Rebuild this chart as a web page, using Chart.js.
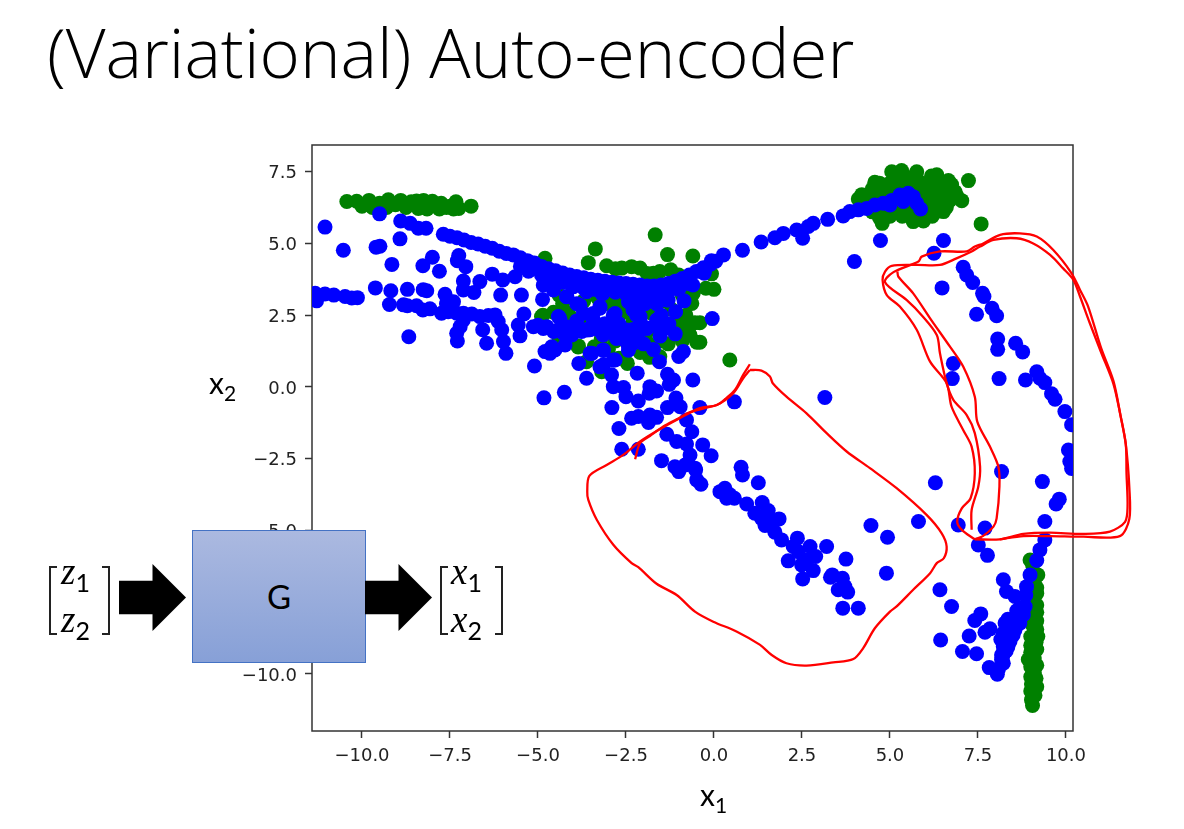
<!DOCTYPE html>
<html>
<head>
<meta charset="utf-8">
<script src="https://cdn.jsdelivr.net/npm/chart.js@4"></script>
<style>
  html, body { margin: 0; padding: 0; background: #fff; overflow: hidden; }
  #wrap { position: relative; width: 1184px; height: 829px; font-family: Lato, sans-serif; color: #000; }
  #myChart { position: absolute; left: 0; top: 0; }
  .txt { position: absolute; white-space: nowrap; line-height: 1; }
  #title { left: 47px; top: 17px; font-family: "Open Sans", sans-serif; font-size: 68.9px; font-weight: 300; }
  .axisName { font-size: 30px; }
  .axisName sub { font-size: 21px; vertical-align: -7px; line-height: 0; }
  #box { position: absolute; left: 192px; top: 530px; width: 172px; height: 131px; border: 1px solid #4472c4;
    background: linear-gradient(#abb9e0, #87a0d7); text-align: center; line-height: 131px; font-size: 33px; }
  .arrow { position: absolute; top: 564px; width: 67px; height: 67px; background: #000;
    clip-path: polygon(0 25%, 50% 25%, 50% 0, 100% 50%, 50% 100%, 50% 75%, 0 75%); }
  .brk { position: absolute; top: 566px; width: 6px; height: 65px; border: 2px solid #222; }
  .brk.l { border-right: none; }
  .brk.r { border-left: none; }
  .mat { font-family: "Liberation Serif", serif; font-style: italic; font-size: 37px; }
  .mat sub { font-family: Lato, sans-serif; font-style: normal; font-size: 25px; vertical-align: -8px; line-height: 0; }
</style>
</head>
<body>
<div id="wrap">
  <canvas id="myChart" width="1184" height="829"></canvas>
  <div class="txt" id="title">(Variational) Auto-encoder</div>
  <div class="txt axisName" style="left:209px; top:367px">x<sub>2</sub></div>
  <div class="txt axisName" style="left:700px; top:779px">x<sub>1</sub></div>

  <div class="brk l" style="left:49px"></div>
  <div class="brk r" style="left:102px"></div>
  <div class="txt mat" style="left:61px; top:553px">z<sub>1</sub></div>
  <div class="txt mat" style="left:61px; top:601px">z<sub>2</sub></div>
  <div class="arrow" style="left:119px"></div>
  <div id="box">G</div>
  <div class="arrow" style="left:365px"></div>
  <div class="brk l" style="left:440px"></div>
  <div class="brk r" style="left:495px"></div>
  <div class="txt mat" style="left:451px; top:553px">x<sub>1</sub></div>
  <div class="txt mat" style="left:451px; top:601px">x<sub>2</sub></div>
</div>

<script>
const xTicks = [-10, -7.5, -5, -2.5, 0, 2.5, 5, 7.5, 10]
const yTicks = [-10, -7.5, -5, -2.5, 0, 2.5, 5, 7.5]

// green points
const greenTopLeft = [[-10.43,6.46],[-10.15,6.47],[-10,6.3],[-9.8,6.5],[-9.7,6.25],[-9.5,6.4],[-9.3,6.25],[-9.25,6.52],[-9.05,6.35],[-8.9,6.5],[-8.75,6.25],[-8.6,6.45],[-8.4,6.22],[-8.45,6.48],[-8.25,6.5],[-8.15,6.2],[-8,6.47],[-7.9,6.3],[-7.8,6.2],[-7.75,6.4],[-7.6,6.25],[-7.5,6.3],[-7.4,6.2],[-7.33,6.45],[-7.25,6.22],[-6.9,6.3]]
const greenTopRight = [[5.05,7.5],[5.33,7.54],[5.76,7.5],
  [4.57,7.13],[5.2,7.3],[5.5,7.3],[5.75,7.3],[6.18,7.35],[6.33,7.39],[6.66,7.19],
  [4.7,7.1],[5,7.1],[5.3,7.1],[5.6,7.1],[5.9,7.1],[6.2,7.1],[6.5,7.1],[6.75,7.05],
  [4.5,6.9],[4.8,6.9],[5.1,6.9],[5.4,6.9],[5.7,6.9],[6,6.9],[6.3,6.9],[6.6,6.9],[6.85,6.8],
  [4.2,6.7],[4.5,6.7],[4.8,6.7],[5.4,6.7],[5.7,6.7],[6,6.7],[6.3,6.7],[6.6,6.7],[6.9,6.65],
  [4.1,6.55],[4.5,6.5],[4.9,6.5],[5.8,6.5],[6.1,6.5],[6.4,6.5],[6.7,6.5],[7.04,6.49],
  [4.5,6.3],[4.9,6.3],[5.3,6.3],[5.6,6.3],[6,6.3],[6.3,6.3],[6.6,6.25],
  [4.5,6.1],[4.8,6.1],[5.1,6.1],[5.4,6.1],[5.7,6.1],[6,6.1],[6.3,6.1],[6.52,6.11],
  [4.7,5.9],[5,5.95],[5.35,5.95],[5.66,5.9],[5.95,5.9],[6.2,5.95],
  [4.78,5.7],[5.66,5.76],[5.95,5.78],[7.23,7.19],[7.59,5.68]]
const greenMiddle = [[-1.67,5.3],[-3.37,4.81],[-1.32,4.61],[-0.6,4.56],[-3.57,4.33],[-4.8,4.48],[-3.05,4.22],[-2.8,4.12],[-2.62,4.14],[-2.34,4.19],[-2.1,4.14],[-1.9,3.95],[-1.72,3.96],[-1.54,4.02],[-1.23,4.08],[-1,3.9],[-0.07,3.94],[-0.23,3.44],[0,3.4],[-0.59,3.26],[-0.63,2.91],[-0.54,2.24],[-0.73,1.99],[-0.49,1.56],[-0.68,1.81],[-0.8,2.5],[-0.4,2.24],[-0.4,1.56],
  [-4.9,2.45],[-4.56,2.6],[-3.85,1.43],[-3.62,0.88],[-3.19,0.53],[-2.46,0.82],[-1.83,1.03],[-1.91,1.58],[-1.54,1.06],[-3.05,2.91],[-2.62,2.57],[-4.09,2.45],[-1.77,2.57],[-1.06,2.21],[-3.7,3],[-3.4,2.2],[-2.8,3],[-2.3,2.3],[-2,3],[-1.5,1.6],[-4.3,2.9],[-3,1.3],[-3.4,1.4],[-2.7,1],[0.45,0.94],
  [-4.15,2.57],[-4.86,2.5],[-3.04,3.03],[-2.58,2.7],[-1.87,2.62],[-0.77,2.33],[-0.6,3.27],[-3.86,1.39],[-4.4,1.7],[-4.4,3.2],[-3.6,2.4],[-3.2,1.7],[-2.8,1.6],[-2.4,2],[-2.1,1.2],[-1.7,2],[-1.3,1.5],[-1.2,2.7],[-0.9,1.6],[-1.4,3],[-0.9,3.2],[-3.3,3.1],[-2.3,2.9]]
const greenColumn = [[8.98,-6.03],[9.05,-6.2],[9.2,-6.55],[9.1,-6.8],[9.17,-7],[9.17,-7.2],[9.05,-7.4],[9.17,-7.6],[9.05,-7.7],[9.17,-7.85],[9.05,-8],[9.17,-8.15],[9.05,-8.3],[9.17,-8.45],[9.2,-8.7],[9,-8.7],[9.15,-8.9],[9,-9],[9.17,-9.15],[9,-9.25],[8.93,-9.5],[9.1,-9.45],[9.17,-9.7],[9,-9.75],[9.1,-9.95],[9,-10.1],[9.15,-10.15],[9.02,-10.35],[9.17,-10.45],[9,-10.6],[9.12,-10.75],[9.02,-10.9],[9.05,-11.1]]

// blue points
const blueLeft = [[-11.33,3.26],[-11.29,3],[-11.05,3.24],[-10.8,3.2],[-10.48,3.15],[-10.29,3.1],[-10.13,3.11],[-11.05,5.57],[-10.53,4.76],[-9.6,4.87],[-9.49,4.9],[-9.5,6.03],[-8.92,5.16],[-9.15,4.27],[-9.62,3.45],[-9.18,3.35],[-8.71,3.4],[-8.26,3.39],[-8.16,3.35],[-9.22,2.87],[-8.82,2.86],[-8.71,2.83],[-8.45,2.83],[-8.27,2.68],[-8.07,2.72],[-7.74,2.57],[-7.64,3.23],[-7.4,2.97],[-7.6,2.9],[-7.55,2.62],[-7.31,2.57],[-7.12,2.57],[-6.88,2.54],[-6.65,2.45],[-6.41,2.49],[-6.22,2.51],[-6.13,2.28],[-6.03,1.99],[-5.98,1.58],[-5.91,1.17],[-6.46,1.52],[-6.57,1.99],[-7.12,2.33],[-7.21,2.1],[-7.31,1.87],[-7.29,1.6],[-8.67,1.75],[-8.9,5.78],[-8.63,5.7],[-8.4,5.53],[-8.18,5.53],[-8,4.52],[-8.27,4.22],[-7.8,4.03],[-7.25,4.58],[-7.29,4.4],[-7.05,4.19],[-7.12,3.69],[-7.12,3.38],[-6.82,3.29],[-6.65,3.67],[-6.3,3.93],[-6,3.73],[-5.65,3.84],[-6.06,3.2],[-5.47,3.2],[-4.87,3.05],[-5.4,2.54],[-5.56,2.16],[-5.51,1.78]]
const blueBand = [[-7.69,5.32],[-7.5,5.25],[-7.3,5.2],[-7.1,5.12],[-6.9,5.03],[-6.7,4.98],[-6.5,4.9],[-6.3,4.83],[-6.1,4.73],[-5.9,4.65],[-5.7,4.6],[-5.5,4.5],[-5.3,4.4],[-5.1,4.32],[-4.9,4.2],[-4.7,4.12],[-4.5,4.05],[-4.3,3.97],[-4.1,3.9],[-3.9,3.85],[-3.7,3.8],[-3.5,3.75],[-3.3,3.72],[-3.1,3.68],[-2.9,3.65],[-2.7,3.62],[-2.5,3.6],[-2.3,3.58],[-2.1,3.55],[-1.9,3.52],[-1.7,3.52],[-1.5,3.55],[-1.3,3.6],[-1.1,3.68],[-0.9,3.78],[-0.7,3.9],[-0.5,4.02],[-0.3,4.15],[-0.1,4.28],[0.05,4.38],
  [-5.5,4.2],[-5.2,4.1],[-4.9,3.9],[-4.6,3.75],[-4.3,3.65],[-4,3.5],[-3.7,3.45],[-3.4,3.4],[-3.1,3.35],[-2.8,3.3],[-2.5,3.25],[-2.2,3.25],[-1.9,3.25],[-1.6,3.25],[-1.3,3.3],[-1,3.4],[-0.7,3.6]]
const blueMiddle = [[-5,2.15],[-4.75,2.1],[-4.56,1.93],[-4.28,1.87],[-4.04,1.81],[-3.76,1.93],[-3.52,1.99],[-3.29,1.99],[-3,1.93],[-2.76,1.75],[-2.53,1.64],[-2.29,1.52],[-2.43,1.28],[-2,1.5],[-1.9,2.05],[-1.6,2.1],[-1.3,2.05],[-1.45,2.2],[-1.1,1.85],[-1.5,2.5],
  [-4.42,2.45],[-4.18,3.15],[-3.9,2.9],[-3.71,2.57],[-3.95,3.6],[-3.62,3.5],[-3.19,3.26],[-3.24,2.74],[-3.43,2.33],[-2.86,2.5],[-2.43,2.97],[-2.1,2.45],[-1.96,2.9],[-1.63,2.9],[-1.3,3.03],[-1.09,2.62],[-0.85,3],[-0.6,3.55],[-1.63,2.33],[-1.28,2.2],[-0.05,2.38],[-0.28,3.96],[-4.85,3.55],[-4.56,3.38],[-4.7,3.85],[-5.27,4.03],[-4.94,4.08],[-4.28,3.79],[-3.6,2],[-3.1,2.2],[-2.7,2.2],[-2.3,2],[-3.9,2.3],[-4.2,2.1],
  [-4.38,2.39],[-3.81,2.85],[-4.19,3.14],[-3.24,2.8],[-2.81,2.56],[-2.1,2.97],[-1.35,3.03],[-2.1,2.33],[-2.15,1.87],[-2.48,1.98],[-2.77,2.04],[-3.24,2.16],[-3.62,1.98],[-4,1.98],[-4.42,1.98],[-4.85,2.04],[-5.13,2.1],[-3.43,2.56],[-3.15,3.26],[-4,3.49],[-3.62,3.32],[-1.53,1.77],[-1.91,2.04],[-2.43,1.4],[-2.77,1.69],[-3.15,1.81],[-3.52,1.17],[-3.15,1.29],[-2.81,0.94],[-3.24,0.7],[-2.2,2.5],[-2.3,2.68]]
const blueLower = [[-1.72,1.3],[-1.55,0.88],[-1,1.06],[-0.87,1.23],[-1.32,0.44],[-1.15,0.24],[-1.27,0.09],[-0.6,0.24],[-2.18,0.48],[-1.82,0.01],[-1.63,-0.14],[-1.84,-0.22],[-2.15,-0.49],[-2.5,-0.34],[-2.57,-0.02],[-2.86,0.01],[-2.91,0.42],[-3.14,0.77],[-2.86,0.94],[-3.14,1.27],[-3.47,1.17],[-3.84,0.82],[-3.62,0.3],[-4.25,-0.19],[-4.83,-0.38],[-5.1,0.73],[-4.8,1.23],[-4.66,1.17],[-4.52,1.29],[-4.23,1.46],[-4.61,1.4],[-1.08,-0.39],[-0.96,-0.69],[-1.32,-0.72],[-0.4,-0.72],[-2.9,-0.72],[-2.34,-1.09],[-2.15,-1.03],[-1.82,-0.98],[-1.63,-1.06],[-1.86,-1.24],[-0.78,-1.15],[-2.7,-1.45],[-0.63,-1.56],[-1.34,-1.65],[-1.06,-1.9],[-0.78,-1.99],[-0.32,-2.02],[-0.68,-2.37],[-0.08,-2.4],[-2.62,-2.17],[-2.15,-2.17],[-1.49,-2.57],[-1.11,-2.78],[-0.82,-2.72],[-0.54,-2.83],[-1,-2.95],[-0.52,-2.89],[-0.49,-3.24],[-0.37,-3.39]]
const blueDiagonal = [[0.77,-2.8],[0.81,-3.07],[1.26,-3.34],[0.17,-3.65],[0.31,-3.53],[0.36,-3.88],[0.58,-3.88],[0.45,-3.76],[0.93,-4.08],[1.37,-4.03],[1.54,-4.31],[1.85,-4.6],[1.16,-4.4],[1.35,-4.58],[1.45,-4.83],[1.64,-4.75],[1.73,-5.06],[1.92,-5.33],[2.37,-5.27],[2.25,-5.56],[2.4,-5.74],[2.73,-5.56],[2.89,-5.91],[3.2,-5.56],[2.11,-6.06],[2.49,-6.2],[2.63,-6.03],[2.82,-6.4],[2.52,-6.69],[3.75,-6],[3.31,-6.63],[3.36,-6.55],[3.65,-6.67],[3.72,-6.96],[3.53,-7.07],[3.8,-7.15],[3.66,-7.71],[4.1,-7.71],[4.46,-4.83],[4.93,-5.24],[4.9,-6.49],[5.81,-4.69],[6.29,-3.34],[3.15,-0.37],[0.58,-0.52]]
const blueUpperRight = [[-0.26,4.07],[-0.07,4.4],[0.27,4.6],[0.81,4.76],[1.34,5.05],[1.73,5.2],[1.97,5.35],[2.35,5.47],[2.52,5.18],[2.68,5.59],[2.82,5.7],[3.23,5.84],[3.67,5.96],[3.86,6.11],[4.1,6.17],[4.34,6.22],[4.57,6.34],[4.81,6.4],[5.05,6.5],[5.28,6.69],[5.52,6.75],[5.66,6.63],[5.76,6.4],[5.87,6.2],[5,6.34],[5.38,6.46],[3.99,4.37],[4.73,5.1],[6.52,5.1],[6.25,4.66],[6.48,3.45]]
const blueRightArc = [[7.08,4.17],[7.18,3.9],[7.35,3.64],[7.63,3.26],[7.67,3.15],[7.9,2.74],[8.03,2.48],[7.46,2.53],[8.06,1.67],[8.06,1.31],[8.57,1.52],[8.77,1.22],[6.8,0.82],[6.77,0.29],[8.1,0.29],[8.85,0.24],[9.17,0.53],[9.26,0.3],[9.4,0.15],[9.59,-0.24],[9.69,-0.43],[9.97,-0.86],[10.16,-1.32],[10.07,-2.2],[10.11,-2.6],[10.16,-2.84],[8.17,-2.95],[9.33,-3.3],[6.94,-4.81],[7.7,-4.92],[9.4,-4.69],[9.81,-3.91],[9.72,-4.08]]
const blueBottomRight = [[9.4,-5.33],[9.26,-5.68],[9.17,-6.05],[7.51,-5.51],[7.77,-5.87],[8.98,-6.55],[8.88,-6.96],[8.86,-7.25],[8.22,-6.72],[8.31,-7.13],[8.55,-7.3],[6.42,-7.07],[6.75,-7.65],[7.58,-7.91],[7.41,-8.14],[7.84,-8.43],[7.7,-8.55],[7.25,-8.68],[6.44,-8.82],[7.06,-9.22],[7.46,-9.3],[7.82,-9.78],[8.05,-10.01],[8.84,-7.65],[8.79,-7.94],[8.69,-8.23],[8.55,-8.47],[8.27,-8.23],[8.5,-8.1],[8.6,-7.8],[8.22,-8.58],[8.41,-8.87],[8.22,-9.05],[8.17,-9.34],[8.22,-9.63],[8.4,-8.5],[8.3,-8.8],[8.3,-9.2],[8.15,-8.8],
  [8.7,-7.7],[8.45,-8.3],[8.35,-8.6],[8.25,-8.95],[8.35,-9.05],[8.2,-9.4],[8.35,-8.1],[8.65,-8.05],[8.5,-8.64],[8.17,-9.5],[8.08,-9.85]]

// red pen strokes
const redLoop = [[1.02,0.79],[0.83,0.42],[0.6,-0.1],[0.31,-0.43],[0.08,-0.63],[-0.26,-0.74],[-0.68,-0.88],[-1.06,-1.13],[-1.44,-1.38],[-1.82,-1.71],[-2.1,-1.96],[-2.24,-2.52]]
const redLoopClosed = [[1.02,0.59],[1.35,0.57],[1.59,0.36],[1.67,0.13],[2.06,-0.34],[2.63,-0.92],[3.2,-1.61],[3.77,-2.25],[4.43,-2.83],[5.19,-3.53],[6.04,-4.46],[6.47,-5.1],[6.61,-5.56],[6.53,-5.97],[6.33,-6.14],[6.14,-6.49],[5.66,-7.07],[5.19,-7.65],[5,-7.83],[4.57,-8.41],[4.24,-9.1],[3.96,-9.48],[3.39,-9.6],[2.63,-9.71],[2.06,-9.63],[1.64,-9.34],[1.31,-8.99],[0.64,-8.52],[-0.02,-8.18],[-0.54,-7.83],[-1.06,-7.25],[-1.63,-6.86],[-2.15,-6.28],[-2.34,-6.14],[-2.86,-5.5],[-3.33,-4.63],[-3.57,-3.94],[-3.6,-3.65],[-3.54,-3.1],[-3.05,-2.72],[-2.58,-2.37],[-2.1,-1.9],[-1.49,-1.44],[-0.97,-1.09],[-0.4,-0.74],[0.08,-0.63],[0.55,-0.22],[0.83,0.3],[1.02,0.59]]
const redRightA = [[7.32,-4.98],[7.32,-4.29],[7.51,-3.47],[7.56,-2.78],[7.41,-1.61],[7.18,-0.98],[6.8,-0.45],[6.61,0.13],[6.42,1.17],[6.33,1.81],[5.9,2.5],[5.47,3.03],[4.86,3.65],[5.1,4],[5.81,4.37],[5.9,4.54],[6.42,4.72],[7.18,4.72],[7.41,4.89],[7.65,5],[8.13,5.3],[8.69,5.35],[9.17,5.24],[9.64,4.77],[10.16,3.96],[10.4,3.38],[10.63,2.8],[11,1.35],[11.35,0.2],[11.55,-1],[11.7,-2],[11.72,-3],[11.75,-4.17],[11.68,-4.7],[11.25,-5.04],[10.5,-5.12],[9.55,-5.08],[8.79,-5.12],[8.12,-5.31],[7.41,-5.31]]
const redRightB = [[7.41,-5.31],[7.04,-4.98],[6.91,-4.69],[7.04,-4.23],[7.29,-3.88],[7.41,-3.01],[7.32,-2.08],[7.08,-1.5],[6.75,-0.69],[6.61,0.13],[6.14,0.88],[5.76,1.99],[5.28,2.8],[4.91,3.2],[4.79,3.73],[4.86,4.02],[5.05,4.22],[5.76,4.25],[6.42,4.25],[6.89,4.48],[7.32,4.72],[7.56,4.89],[7.94,5.12],[8.6,5.18],[9.07,5],[9.55,4.6],[9.92,4.13],[10.21,3.73],[10.4,3.15],[10.66,2.28],[11,1.2],[11.35,0.1],[11.55,-1],[11.7,-2],[11.8,-3.5],[11.8,-4.6],[11.53,-5.2],[10.5,-5.22],[9.55,-5.2],[8.79,-5.2],[8.12,-5.31]]
const redRightC = [[7.41,-5.31],[7.65,-5.19],[7.94,-4.87],[8.03,-4.58],[8.11,-3.47],[8.08,-2.78],[7.84,-2.08],[7.48,-1.21],[7.41,-0.34],[7.08,0.71],[6.7,1.41],[6.14,2.39],[5.66,3.26],[5.24,3.84],[5.21,4.02]]

const toXY = a => a.map(p => ({ x: p[0], y: p[1] }))

// order: lower number is drawn on top
function dots(points, color, order) {
  return { data: toXY(points), backgroundColor: color, borderWidth: 0, pointRadius: 7.5, pointHoverRadius: 7.5, clip: 0, order: order }
}
function pen(points) {
  return { data: toXY(points), showLine: true, borderColor: '#ff0000', borderWidth: 2.3, pointRadius: 0, tension: 0.3, clip: false, order: 1 }
}

// frame round the plot
const frame = {
  id: 'frame',
  beforeDatasetsDraw(chart) {
    const a = chart.chartArea, c = chart.ctx
    c.save()
    c.strokeStyle = '#333'
    c.lineWidth = 1.5
    c.strokeRect(a.left, a.top, a.right - a.left, a.bottom - a.top)
    c.restore()
  }
}

const tickText = v => v.toFixed(1).replace('-', '\u2212')
const tickFont = { family: 'DejaVu Sans', size: 18 }

new Chart(document.getElementById('myChart'), {
  type: 'scatter',
  data: {
    datasets: [
      dots(greenTopLeft, '#008000', 3), dots(greenTopRight, '#008000', 3), dots(greenMiddle, '#008000', 3), dots(greenColumn, '#008000', 3),
      dots(blueLeft, '#0000ff', 2), dots(blueBand, '#0000ff', 2), dots(blueMiddle, '#0000ff', 2), dots(blueLower, '#0000ff', 2),
      dots(blueDiagonal, '#0000ff', 2), dots(blueUpperRight, '#0000ff', 2), dots(blueRightArc, '#0000ff', 2), dots(blueBottomRight, '#0000ff', 2),
      pen(redLoop), pen(redLoopClosed), pen(redRightA), pen(redRightB), pen(redRightC)
    ]
  },
  plugins: [frame],
  options: {
    responsive: false,
    animation: false,
    devicePixelRatio: 1,
    layout: { padding: { left: 232, right: 111, top: 145, bottom: 58 } },
    plugins: { legend: { display: false }, tooltip: { enabled: false } },
    scales: {
      x: {
        type: 'linear', min: -11.42, max: 10.2,
        afterBuildTicks: s => { s.ticks = xTicks.map(v => ({ value: v })) },
        afterFit: s => { s.height = 40 },
        grid: { drawOnChartArea: false, drawTicks: true, tickLength: 7, tickWidth: 1.5, tickColor: '#333' },
        border: { display: false },
        ticks: { callback: tickText, font: tickFont, color: '#222', maxRotation: 0, autoSkip: false, padding: 8 }
      },
      y: {
        type: 'linear', min: -11.99, max: 8.43,
        afterBuildTicks: s => { s.ticks = yTicks.map(v => ({ value: v })) },
        afterFit: s => { s.width = 80 },
        grid: { drawOnChartArea: false, drawTicks: true, tickLength: 7, tickWidth: 1.5, tickColor: '#333' },
        border: { display: false },
        ticks: { callback: tickText, font: tickFont, color: '#222', autoSkip: false, padding: 8, labelOffset: 2 }
      }
    }
  }
})
</script>
</body>
</html>
